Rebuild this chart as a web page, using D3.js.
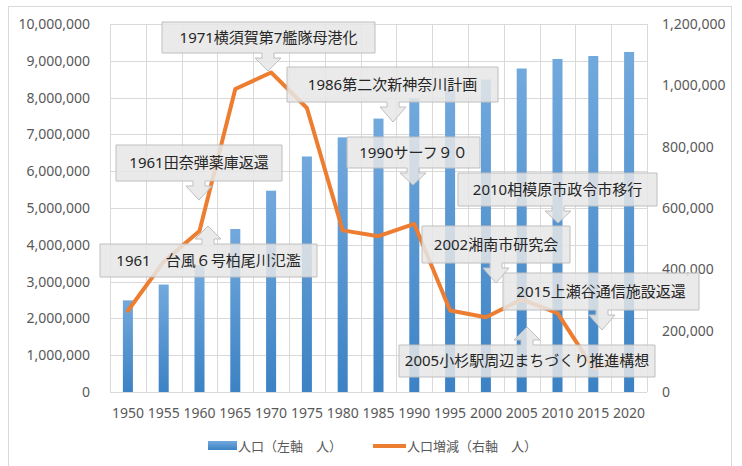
<!DOCTYPE html>
<html>
<head>
<meta charset="utf-8">
<script src="https://cdn.jsdelivr.net/npm/d3@7"></script>
<style>
  body { margin: 0; background: #fff; }
  text { font-family: "Noto Sans", "Noto Sans CJK JP", sans-serif; }
</style>
</head>
<body>
<div id="chart"></div>
<script>
// 神奈川県 人口と5年ごとの増減
const years = ['1950','1955','1960','1965','1970','1975','1980','1985','1990','1995','2000','2005','2010','2015','2020'];
const population = [2490000, 2920000, 3440000, 4430000, 5470000, 6400000, 6920000, 7430000, 7980000, 8250000, 8490000, 8790000, 9050000, 9130000, 9240000];
const change = [265000, 425000, 525000, 988000, 1042000, 926000, 527000, 508000, 548000, 266000, 244000, 302000, 257000, 78000, 111000];
const leftTicks = d3.range(0, 10000001, 1000000);
const rightTicks = d3.range(0, 1200001, 200000);
const legendLabels = ['人口（左軸　人）', '人口増減（右軸　人）'];

const calloutTexts = [
    '1971横須賀第7艦隊母港化',
    '1986第二次新神奈川計画',
    '1961田奈弾薬庫返還',
    '1961　台風６号柏尾川氾濫',
    '1990サーフ９０',
    '2010相模原市政令市移行',
    '2015上瀬谷通信施設返還',
    '2002湘南市研究会',
    '2005小杉駅周辺まちづくり推進構想'
];
// 吹き出しの配置（ピクセル）
const calloutLayout = [
    { x0: 162, x1: 375, y0: 22, y1: 53, cx: 268, tip: 71, dir: 'down' },
    { x0: 287, x1: 498, y0: 67, y1: 102, cx: 393, tip: 122, dir: 'down' },
    { x0: 116, x1: 282, y0: 145, y1: 181, cx: 199, tip: 200, dir: 'down' },
    { x0: 100, x1: 317, y0: 244, y1: 277, cx: 208, tip: 226, dir: 'up' },
    { x0: 347, x1: 480, y0: 137, y1: 168, cx: 413, tip: 185, dir: 'down' },
    { x0: 458, x1: 657, y0: 173, y1: 206, cx: 558, tip: 223, dir: 'down' },
    { x0: 503, x1: 699, y0: 273, y1: 310, cx: 602, tip: 330, dir: 'down' },
    { x0: 422, x1: 570, y0: 226, y1: 263, cx: 496, tip: 283, dir: 'down' },
    { x0: 399, x1: 655, y0: 345, y1: 377, cx: 527, tip: 327, dir: 'up' }
];

const width = 742, height = 466;
const plot = { left: 110, right: 647, top: 24, bottom: 392 };

const svg = d3.select('#chart')
    .append('svg')
    .attr('width', width)
    .attr('height', height);

const defs = svg.append('defs');
const grad = defs.append('linearGradient')
    .attr('id', 'barGrad')
    .attr('x1', 0).attr('y1', 0).attr('x2', 0).attr('y2', 1);
grad.append('stop').attr('offset', '0%').attr('stop-color', '#72a9dd');
grad.append('stop').attr('offset', '100%').attr('stop-color', '#3c82c4');

// 外枠
svg.append('rect')
    .attr('x', 8.5).attr('y', 6.5)
    .attr('width', 723).attr('height', 470)
    .attr('fill', 'none')
    .attr('stroke', '#d9d9d9');

const x = d3.scaleBand()
    .domain(years)
    .range([plot.left, plot.right])
    .paddingInner(0.72)
    .paddingOuter(0.36);

const yL = d3.scaleLinear().domain([0, 10000000]).range([plot.bottom, plot.top]);
const yR = d3.scaleLinear().domain([0, 1200000]).range([plot.bottom, plot.top]);

// グリッド
const grid = svg.append('g').attr('class', 'grid');
grid.selectAll('.h')
    .data(leftTicks)
    .enter()
    .append('line')
    .attr('x1', plot.left).attr('x2', plot.right)
    .attr('y1', d => Math.round(yL(d)) + 0.5)
    .attr('y2', d => Math.round(yL(d)) + 0.5)
    .attr('stroke', '#d9d9d9');
grid.selectAll('.v')
    .data(d3.range(years.length + 1))
    .enter()
    .append('line')
    .attr('x1', i => Math.round(plot.left + i * x.step()) + 0.5)
    .attr('x2', i => Math.round(plot.left + i * x.step()) + 0.5)
    .attr('y1', plot.top).attr('y2', plot.bottom)
    .attr('stroke', '#d9d9d9');

// 軸ラベル
const fmt = d3.format(',');
svg.append('g')
    .selectAll('text')
    .data(leftTicks)
    .enter()
    .append('text')
    .attr('x', 90)
    .attr('y', d => yL(d))
    .attr('dy', '0.35em')
    .attr('text-anchor', 'end')
    .attr('font-size', 14)
    .attr('fill', '#595959')
    .text(d => fmt(d));
svg.append('g')
    .selectAll('text')
    .data(rightTicks)
    .enter()
    .append('text')
    .attr('x', 662)
    .attr('y', d => yR(d))
    .attr('dy', '0.35em')
    .attr('font-size', 14)
    .attr('fill', '#595959')
    .text(d => fmt(d));
svg.append('g')
    .selectAll('text')
    .data(years)
    .enter()
    .append('text')
    .attr('x', d => x(d) + x.bandwidth() / 2)
    .attr('y', 413)
    .attr('dy', '0.35em')
    .attr('text-anchor', 'middle')
    .attr('font-size', 14)
    .attr('fill', '#595959')
    .text(d => d);

// 棒
svg.append('g')
    .selectAll('rect')
    .data(population)
    .enter()
    .append('rect')
    .attr('x', (d, i) => x(years[i]))
    .attr('y', d => yL(d))
    .attr('width', x.bandwidth())
    .attr('height', d => plot.bottom - yL(d))
    .attr('fill', 'url(#barGrad)');

// 折れ線
const line = d3.line()
    .x((d, i) => x(years[i]) + x.bandwidth() / 2)
    .y(d => yR(d));
svg.append('path')
    .datum(change)
    .attr('d', line)
    .attr('fill', 'none')
    .attr('stroke', '#ed7d31')
    .attr('stroke-width', 4)
    .attr('stroke-linejoin', 'round')
    .attr('stroke-linecap', 'round');

// 吹き出し
const sw = 6, hw = 13, sl = 5;
const calloutPath = c => {
    if (c.dir === 'down') {
        return `M${c.x0},${c.y0}H${c.x1}V${c.y1}H${c.cx + sw}V${c.y1 + sl}H${c.cx + hw}` +
            `L${c.cx},${c.tip}L${c.cx - hw},${c.y1 + sl}H${c.cx - sw}V${c.y1}H${c.x0}Z`;
    }
    return `M${c.x0},${c.y1}H${c.x1}V${c.y0}H${c.cx + sw}V${c.y0 - sl}H${c.cx + hw}` +
        `L${c.cx},${c.tip}L${c.cx - hw},${c.y0 - sl}H${c.cx - sw}V${c.y0}H${c.x0}Z`;
};
const callouts = svg.append('g')
    .selectAll('g')
    .data(calloutTexts)
    .enter()
    .append('g');
callouts.append('path')
    .attr('d', (d, i) => calloutPath(calloutLayout[i]))
    .attr('fill', '#e6e6e6')
    .attr('fill-opacity', 0.85)
    .attr('stroke', '#bfbfbf')
    .attr('stroke-width', 1);
callouts.append('text')
    .attr('x', (d, i) => (calloutLayout[i].x0 + calloutLayout[i].x1) / 2)
    .attr('y', (d, i) => (calloutLayout[i].y0 + calloutLayout[i].y1) / 2)
    .attr('dy', '0.35em')
    .attr('text-anchor', 'middle')
    .attr('font-size', 15)
    .attr('fill', '#262626')
    .text(d => d);

// 凡例
const legend = svg.append('g');
legend.append('rect')
    .attr('x', 208).attr('y', 441)
    .attr('width', 29).attr('height', 9)
    .attr('fill', 'url(#barGrad)');
legend.append('text')
    .attr('x', 238).attr('y', 446)
    .attr('dy', '0.35em')
    .attr('font-size', 13)
    .attr('fill', '#595959')
    .text(legendLabels[0]);
legend.append('line')
    .attr('x1', 373).attr('x2', 406)
    .attr('y1', 446).attr('y2', 446)
    .attr('stroke', '#ed7d31')
    .attr('stroke-width', 4);
legend.append('text')
    .attr('x', 407).attr('y', 446)
    .attr('dy', '0.35em')
    .attr('font-size', 13)
    .attr('fill', '#595959')
    .text(legendLabels[1]);
</script>
</body>
</html>
